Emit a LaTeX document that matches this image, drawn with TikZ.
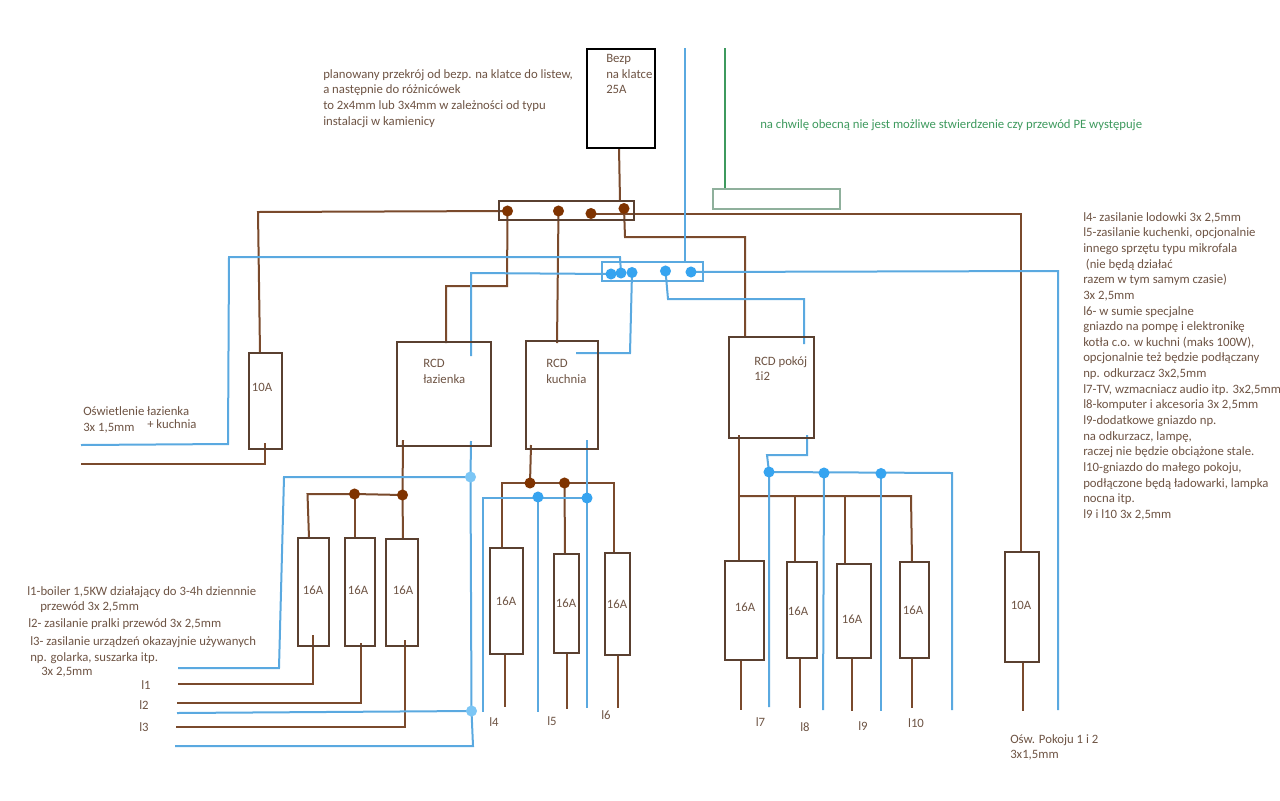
\documentclass[tikz,border=0pt]{standalone}
\usepackage{fontspec}
\setmainfont{Carlito}
\definecolor{wbrown}{HTML}{7A4A2C}
\definecolor{bord}{HTML}{5A4030}
\definecolor{wblue}{HTML}{5AA9E0}
\definecolor{dbrown}{HTML}{7F3300}
\definecolor{dblue}{HTML}{36A4F0}
\definecolor{dlight}{HTML}{7CC6F5}
\definecolor{wgreen}{HTML}{3E9A5E}
\definecolor{gbox}{HTML}{8FB09C}
\definecolor{txtc}{HTML}{6E5444}
\pgfdeclarelayer{wires}
\pgfsetlayers{wires,main}
\tikzset{
  brownw/.style={draw=wbrown,line width=1.5pt,line join=miter},
  bluew/.style={draw=wblue,line width=1.5pt,line join=miter},
  greenw/.style={draw=wgreen,line width=1.5pt},
  boxn/.style={draw=bord,line width=1.5pt,inner sep=0pt,rectangle},
  busb/.style={draw=bord,line width=1.5pt,inner sep=0pt,rectangle},
  busblue/.style={draw=wblue,line width=1.5pt,inner sep=0pt,rectangle},
  bezpb/.style={draw=black,line width=1.6pt,inner sep=0pt,rectangle},
  greenb/.style={draw=gbox,line width=1.4pt,inner sep=0pt,rectangle},
  dotbrown/.style={circle,fill=dbrown,inner sep=0pt,minimum size=8.3pt},
  dotblue/.style={circle,fill=dblue,inner sep=0pt,minimum size=8.3pt},
  dotlight/.style={circle,fill=dlight,inner sep=0pt,minimum size=8.3pt},
  lab/.style={text=txtc,font=\fontsize{9.55pt}{11pt}\selectfont,inner sep=0pt},
  txt/.style={text=txtc,font=\fontsize{9.55pt}{11.74pt}\selectfont,inner sep=0pt,anchor=base west},
  blocktxt/.style={txt,align=left,anchor=north west},
}
\newcommand{\pxbox}[6]{%
  \pgfmathsetlengthmacro{\pxw}{(#5-#3)*0.75pt}%
  \pgfmathsetlengthmacro{\pxh}{(#6-#4)*0.75pt}%
  \pgfmathsetmacro{\pxx}{(#3+#5)/2}%
  \pgfmathsetmacro{\pxy}{(#4+#6)/2}%
  \node[#1,minimum width=\pxw,minimum height=\pxh] (#2) at (\pxx,\pxy) {};}
\begin{document}
\begin{tikzpicture}[x=0.75pt,y=-0.75pt]
\useasboundingbox (0,0) rectangle (1280,800);
% boxes
\pxbox{bezpb}{bezp}{587}{49}{655}{148}
\pxbox{busb}{bus}{499}{201}{634}{220}
\pxbox{busblue}{busn}{602}{262}{703}{281}
\pxbox{greenb}{pe}{713}{189}{840}{209}
\pxbox{boxn}{rcda}{397}{342}{491}{446}
\pxbox{boxn}{rcdb}{526}{341}{598}{449}
\pxbox{boxn}{rcdc}{729}{337}{814}{438}
\pxbox{boxn}{fl}{249}{353}{282}{449}
\pxbox{boxn}{fr}{1005}{552}{1039}{662}
\pxbox{boxn}{fa}{298}{538}{329}{646}
\pxbox{boxn}{fb}{345}{538}{375}{646}
\pxbox{boxn}{fc}{386}{539}{418}{646}
\pxbox{boxn}{fd}{490}{548}{523}{654}
\pxbox{boxn}{fe}{554}{554}{579}{653}
\pxbox{boxn}{ff}{605}{553}{630}{655}
\pxbox{boxn}{fg}{725}{561}{764}{660}
\pxbox{boxn}{fh}{787}{562}{817}{658}
\pxbox{boxn}{fi}{837}{564}{871}{658}
\pxbox{boxn}{fj}{900}{562}{929}{658}
% junctions
\foreach \n/\x/\y/\s in {
  ba/507.5/211/dotbrown, bb/558.5/211/dotbrown, bc/591/213.5/dotbrown, bd/624/208.5/dotbrown,
  ja/354.5/494/dotbrown, jb/402.5/495/dotbrown, jc/530/483/dotbrown, jd/564.5/483/dotbrown,
  na/611/274/dotblue, nb/621/273/dotblue, nc/632/272.5/dotblue, nd/665.5/271/dotblue, ne/691/272/dotblue,
  ka/538/497/dotblue, kb/587/498/dotblue, ma/769/472/dotblue, mb/824/473/dotblue, mc/881/473.5/dotblue,
  la/470.5/477/dotlight, lb/471.5/711/dotlight}
  {\node[\s] (\n) at (\x,\y) {};}
% free ends and corners
\foreach \n/\x/\y in {
  bzo/619/148, bzi/620/201,
  tl/258/212, flt/260/353, flb/265/443, flc/265/464, fle/81/464,
  blue1e/81/445, blue1a/228/444, blue1b/229/257, blue1c/620/257,
  blue2a/471/273, blue2b/471/356,
  c1/507/286, c2/446/286, c3/446/343,
  c4/557/343,
  c5/625/237, c6/745/237, c7/745/337,
  c8/1021/213.5, c9/1021/552, c10/1022.5/662, c11/1022.5/711,
  n1/630/353, n2/576/353,
  n3/668/299, n4/804/299, n5/804/344,
  n6/1058/271, n7/1058/710,
  up1/685/48, up2/685/262, ge1/725/48, ge2/725/189,
  a1/403/440, a2/307.5/494, a3/309/538, a4/354.5/538, a5/403/539,
  a6/313/635, a7/313/684, a8/178/684,
  a9/361/643, a10/361/703, a11/177/703,
  a12/404.5/640, a13/404.5/727, a14/176/727,
  b1/471/441, b2/284/477, b3/279/668, b4/178/668,
  b5/177/713, b6/473/746, b7/175/746,
  k1/531/445, k2/502/483, k3/614/483, k4/502/548, k5/614/553, k6/565/554,
  k7/505/655, k8/505/707, k9/567/654, k10/567/709, k11/618/655, k12/618/708,
  k13/483/498, k14/483/712, k15/538/712, k16/587/440, k17/587/708,
  p1/739/435, p2/739/561, p3/739/496, p4/911/496, p5/795/562, p6/795/496, p7/845/564, p8/845/496, p9/912/562,
  p10/741/660, p11/741/710, p12/800/658, p13/800/708, p14/852/658, p15/852/711, p16/912/658, p17/912/708,
  m1/807/435, m2/807/455, m3/767/455, m4/769/707, m5/823/710, m6/881/711, m7/952/473, m8/952/710}
  {\coordinate (\n) at (\x,\y);}
% wires
\begin{pgfonlayer}{wires}
\fill[white] (0,0) rectangle (1280,800);
\draw[brownw] (bzo) -- (bzi);
\draw[brownw] (ba.center) -- (tl) -- (flt);
\draw[brownw] (flb) -- (flc) -- (fle);
\draw[brownw] (ba.center) -- (c1) -- (c2) -- (c3);
\draw[brownw] (bb.center) -- (c4);
\draw[brownw] (bc.center) -- (c8) -- (c9);
\draw[brownw] (bd.center) -- (c5) -- (c6) -- (c7);
\draw[brownw] (c10) -- (c11);
\draw[brownw] (a1) -- (jb.center) -- (a5);
\draw[brownw] (jb.center) -- (ja.center) -- (a2) -- (a3);
\draw[brownw] (ja.center) -- (a4);
\draw[brownw] (a6) -- (a7) -- (a8);
\draw[brownw] (a9) -- (a10) -- (a11);
\draw[brownw] (a12) -- (a13) -- (a14);
\draw[brownw] (k1) -- (jc.center);
\draw[brownw] (k4) -- (k2) -- (k3) -- (k5);
\draw[brownw] (jd.center) -- (k6);
\draw[brownw] (k7) -- (k8);
\draw[brownw] (k9) -- (k10);
\draw[brownw] (k11) -- (k12);
\draw[brownw] (p1) -- (p2);
\draw[brownw] (p3) -- (p4) -- (p9);
\draw[brownw] (p6) -- (p5);
\draw[brownw] (p8) -- (p7);
\draw[brownw] (p10) -- (p11);
\draw[brownw] (p12) -- (p13);
\draw[brownw] (p14) -- (p15);
\draw[brownw] (p16) -- (p17);
\draw[bluew] (blue1e) -- (blue1a) -- (blue1b) -- (blue1c) -- (nb.center);
\draw[bluew] (na.center) -- (blue2a) -- (blue2b);
\draw[bluew] (nc.center) -- (n1) -- (n2);
\draw[bluew] (nd.center) -- (n3) -- (n4) -- (n5);
\draw[bluew] (ne.center) -- (n6) -- (n7);
\draw[bluew] (up1) -- (up2);
\draw[greenw] (ge1) -- (ge2);
\draw[bluew] (b1) -- (la.center) -- (lb.center) -- (b6) -- (b7);
\draw[bluew] (la.center) -- (b2) -- (b3) -- (b4);
\draw[bluew] (lb.center) -- (b5);
\draw[bluew] (k16) -- (kb.center) -- (k17);
\draw[bluew] (kb.center) -- (k13) -- (k14);
\draw[bluew] (ka.center) -- (k15);
\draw[bluew] (m1) -- (m2) -- (m3) -- (ma.center) -- (m4);
\draw[bluew] (ma.center) -- (m7) -- (m8);
\draw[bluew] (mb.center) -- (m5);
\draw[bluew] (mc.center) -- (m6);
\end{pgfonlayer}
% box labels
\foreach \n/\x/\y/\t in {
  la1/313/590/16A, la2/358/590/16A, la3/403/590/16A,
  la4/506/601/16A, la5/566/603/16A, la6/617/604/16A,
  la7/745/607/16A, la8/798/611/16A, la9/852/619/16A, la10/913/610/16A,
  la11/262/387/10A, la12/1021/605/10A,
  li1/146/685/l1, li2/144/705/l2, li3/144/727/l3,
  li4/494/722/l4, li5/552/721/l5, li6/606/715/l6,
  li7/760.5/722/l7, li8/805/727/l8, li9/863/726/l9, li10/916/723/l10}
  {\node[lab] (\n) at (\x,\y) {\t};}
% texts
\node[blocktxt] (bztxt) at (606,54) {Bezp\\na klatce\\25A};
\node[blocktxt] (plan) at (323,69) {planowany przekrój od bezp. na klatce do listew,\\a następnie do różnicówek\\to 2x4mm lub 3x4mm w zależności od typu\\instalacji w kamienicy};
\node[txt,text=wgreen] (petxt) at (760,128) {na chwilę obecną nie jest możliwe stwierdzenie czy przewód PE występuje};
\node[blocktxt] (rcdat) at (423,359) {RCD\\łazienka};
\node[blocktxt] (rcdbt) at (546,359) {RCD\\kuchnia};
\node[blocktxt] (rcdct) at (754,356) {RCD pokój\\1i2};
\node[txt] (osa) at (83,415) {Oświetlenie łazienka};
\node[txt] (osb) at (83,431) {3x 1,5mm};
\node[txt] (osc) at (147,428) {+ kuchnia};
\node[txt] (ll1) at (27,595) {l1-boiler 1,5KW działający do 3-4h dziennnie};
\node[txt] (ll2) at (40,610) {przewód 3x 2,5mm};
\node[txt] (ll3) at (28,627) {l2- zasilanie pralki przewód 3x 2,5mm};
\node[txt] (ll4) at (30,645) {l3- zasilanie urządzeń okazayjnie używanych};
\node[txt] (ll5) at (30,661) {np. golarka, suszarka itp.};
\node[txt] (ll6) at (41,675) {3x 2,5mm};
\node[blocktxt] (osr) at (1010,734) {Ośw. Pokoju 1 i 2\\3x1,5mm};
\node[blocktxt] (rtxt) at (1083,212) {l4- zasilanie lodowki 3x 2,5mm\\
l5-zasilanie kuchenki, opcjonalnie\\
innego sprzętu typu mikrofala\\
\hspace*{2pt}(nie będą działać\\
razem w tym samym czasie)\\
3x 2,5mm\\
l6- w sumie specjalne\\
gniazdo na pompę i elektronikę\\
kotła c.o. w kuchni (maks 100W),\\
opcjonalnie też będzie podłączany\\
np. odkurzacz 3x2,5mm\\
l7-TV, wzmacniacz audio itp. 3x2,5mm\\
l8-komputer i akcesoria 3x 2,5mm\\
l9-dodatkowe gniazdo np.\\
na odkurzacz, lampę,\\
raczej nie będzie obciążone stale.\\
l10-gniazdo do małego pokoju,\\
podłączone będą ładowarki, lampka\\
nocna itp.\\
l9 i l10 3x 2,5mm};
\end{tikzpicture}
\end{document}
